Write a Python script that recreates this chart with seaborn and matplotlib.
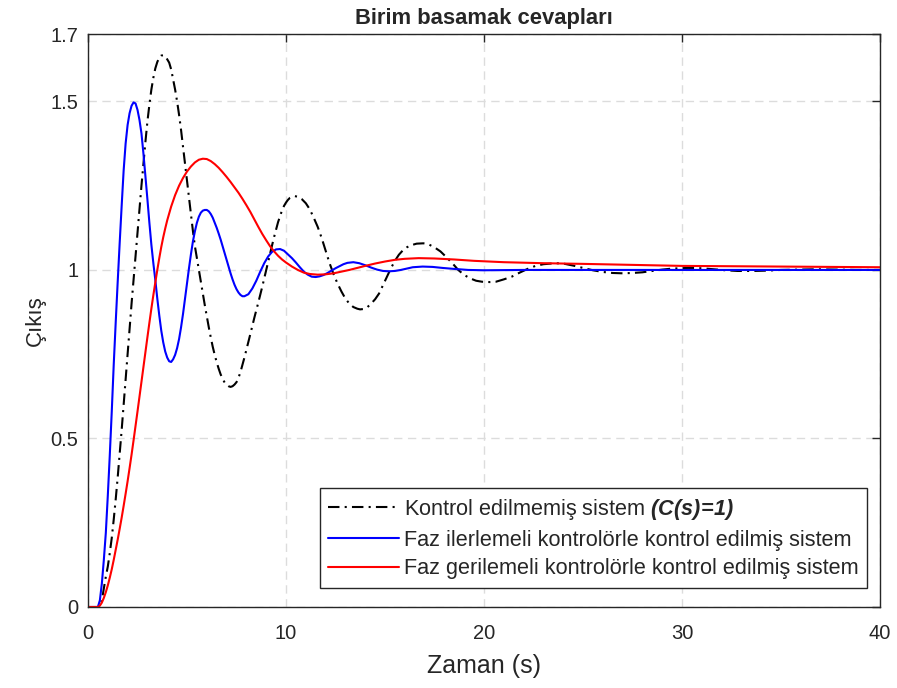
import numpy as np
import pandas as pd
import matplotlib
matplotlib.use("Agg")
import matplotlib.pyplot as plt
import seaborn as sns

# ---- data ----
t_unc = [0, 0.6, 0.7, 0.8, 0.9, 1.0, 1.1, 1.2, 1.3, 1.4, 1.5, 1.6, 1.7, 1.8, 1.9, 2.0,
         2.1, 2.2, 2.3, 2.4, 2.5, 2.6, 2.7, 2.8, 2.9, 3.0, 3.1, 3.2, 3.3, 3.4, 3.5, 3.6,
         3.7, 3.8, 3.9, 4.0, 4.1, 4.2, 4.3, 4.4, 4.5, 4.6, 4.7, 4.8, 4.9, 5.0, 5.1, 5.2,
         5.3, 5.4, 5.5, 5.6, 5.7, 5.8, 5.9, 6.0, 6.1, 6.2, 6.3, 6.4, 6.5, 6.6, 6.7, 6.8,
         6.9, 7.0, 7.1, 7.2, 7.3, 7.4, 7.5, 7.6, 7.7, 7.8, 7.9, 8.0, 8.1, 8.2, 8.3, 8.4,
         8.5, 8.6, 8.7, 8.8, 8.9, 9.0, 9.1, 9.2, 9.3, 9.4, 9.5, 9.6, 9.7, 9.8, 9.9, 10.0,
         10.1, 10.2, 10.3, 10.45, 10.6, 10.8, 11.0, 11.2, 11.4, 11.6, 11.8, 12.0, 12.2,
         12.4, 12.6, 12.8, 13.0, 13.2, 13.4, 13.6, 13.74, 13.9, 14.1, 14.3, 14.5, 14.7,
         14.9, 15.1, 15.3, 15.5, 15.7, 15.9, 16.1, 16.3, 16.6, 16.94, 17.2, 17.5, 17.8,
         18.1, 18.4, 18.7, 19.0, 19.3, 19.6, 19.9, 20.3, 20.6, 21.0, 21.4, 21.8, 22.2,
         22.6, 23.0, 23.6, 24.0, 24.5, 25.0, 25.5, 26.0, 26.5, 27.0, 27.5, 28.0, 28.5,
         29.0, 29.5, 30.3, 31.0, 31.6, 32.2, 32.8, 33.6, 34.3, 35.0, 35.8, 36.8, 37.8,
         38.8, 40]
y_unc = [0, 0, 0.02, 0.055, 0.09, 0.12, 0.16, 0.205, 0.26, 0.32, 0.385, 0.455, 0.525,
         0.6, 0.675, 0.75, 0.825, 0.9, 0.97, 1.04, 1.11, 1.18, 1.25, 1.315, 1.38, 1.44,
         1.49, 1.535, 1.57, 1.598, 1.617, 1.63, 1.636, 1.637, 1.634, 1.625, 1.615, 1.595,
         1.565, 1.535, 1.5, 1.46, 1.415, 1.365, 1.315, 1.265, 1.215, 1.165, 1.115, 1.07,
         1.035, 1.0, 0.965, 0.93, 0.895, 0.862, 0.83, 0.8, 0.772, 0.748, 0.726, 0.707,
         0.69, 0.677, 0.666, 0.659, 0.655, 0.653, 0.655, 0.66, 0.667, 0.68, 0.697, 0.718,
         0.74, 0.763, 0.786, 0.81, 0.834, 0.858, 0.88, 0.903, 0.926, 0.95, 0.975, 1.0,
         1.025, 1.05, 1.074, 1.098, 1.12, 1.142, 1.16, 1.177, 1.19, 1.2, 1.208, 1.214,
         1.217, 1.219, 1.217, 1.21, 1.198, 1.18, 1.155, 1.128, 1.095, 1.058, 1.02, 0.988,
         0.96, 0.936, 0.915, 0.9, 0.89, 0.885, 0.883, 0.884, 0.889, 0.9, 0.913, 0.93,
         0.955, 0.98, 1.005, 1.027, 1.045, 1.058, 1.067, 1.073, 1.078, 1.079, 1.076,
         1.067, 1.055, 1.038, 1.02, 1.0, 0.985, 0.975, 0.968, 0.965, 0.964, 0.965, 0.972,
         0.98, 0.992, 1.003, 1.012, 1.017, 1.02, 1.019, 1.013, 1.006, 0.999, 0.994, 0.991,
         0.99, 0.991, 0.993, 0.997, 1.001, 1.004, 1.006, 1.005, 1.002, 0.999, 0.997,
         0.997, 0.998, 1.0, 1.001, 1.002, 1.001, 1.0, 1.0]

t_lead = [0, 0.5, 0.6, 0.7, 0.8, 0.9, 1.0, 1.1, 1.2, 1.3, 1.4, 1.5, 1.6, 1.7, 1.8, 1.9,
          2.0, 2.1, 2.2, 2.3, 2.4, 2.5, 2.6, 2.7, 2.8, 2.9, 3.0, 3.1, 3.2, 3.3, 3.4, 3.5,
          3.6, 3.7, 3.8, 3.9, 4.0, 4.1, 4.2, 4.3, 4.4, 4.5, 4.6, 4.7, 4.8, 4.9, 5.0, 5.1,
          5.2, 5.3, 5.4, 5.5, 5.6, 5.7, 5.8, 5.9, 6.0, 6.1, 6.2, 6.3, 6.4, 6.5, 6.6, 6.7,
          6.8, 6.9, 7.0, 7.1, 7.2, 7.3, 7.4, 7.5, 7.6, 7.7, 7.8, 7.9, 8.0, 8.1, 8.3, 8.5,
          8.7, 8.9, 9.1, 9.3, 9.5, 9.7, 9.9, 10.1, 10.3, 10.5, 10.7, 10.9, 11.1, 11.3,
          11.5, 11.7, 11.9, 12.1, 12.3, 12.5, 12.7, 12.9, 13.1, 13.4, 13.7, 14.0, 14.3,
          14.6, 14.9, 15.2, 15.5, 15.8, 16.1, 16.4, 16.9, 17.4, 17.9, 18.5, 19.2, 20,
          22, 25, 30, 40]
y_lead = [0, 0, 0.02, 0.07, 0.14, 0.22, 0.33, 0.45, 0.58, 0.72, 0.845, 0.965, 1.08, 1.19,
          1.295, 1.375, 1.43, 1.465, 1.487, 1.497, 1.494, 1.475, 1.445, 1.405, 1.345,
          1.278, 1.21, 1.14, 1.075, 1.02, 0.97, 0.915, 0.865, 0.82, 0.785, 0.758, 0.74,
          0.729, 0.727, 0.735, 0.748, 0.768, 0.795, 0.83, 0.87, 0.915, 0.96, 1.005, 1.047,
          1.085, 1.115, 1.14, 1.158, 1.17, 1.176, 1.178, 1.178, 1.174, 1.166, 1.155, 1.14,
          1.125, 1.108, 1.09, 1.07, 1.05, 1.03, 1.01, 0.99, 0.972, 0.956, 0.943, 0.933,
          0.926, 0.922, 0.922, 0.925, 0.928, 0.945, 0.968, 0.995, 1.02, 1.04, 1.054, 1.061,
          1.062, 1.057, 1.046, 1.035, 1.022, 1.008, 0.995, 0.986, 0.98, 0.979, 0.981,
          0.985, 0.991, 0.998, 1.005, 1.011, 1.017, 1.021, 1.023, 1.02, 1.014, 1.007,
          1.001, 0.997, 0.996, 0.997, 1.0, 1.004, 1.008, 1.01, 1.009, 1.006, 1.003, 1.0,
          0.999, 1.0, 1.0, 1.0, 1.0]

t_lag = [0, 0.5, 0.6, 0.7, 0.8, 0.9, 1.0, 1.1, 1.2, 1.3, 1.4, 1.5, 1.6, 1.7, 1.8, 1.9,
         2.0, 2.1, 2.2, 2.3, 2.4, 2.5, 2.6, 2.7, 2.8, 2.9, 3.0, 3.1, 3.2, 3.3, 3.4, 3.5,
         3.6, 3.7, 3.8, 3.9, 4.0, 4.2, 4.4, 4.6, 4.8, 5.0, 5.2, 5.4, 5.6, 5.8, 6.0, 6.2,
         6.4, 6.6, 6.8, 7.0, 7.2, 7.4, 7.6, 7.8, 8.0, 8.2, 8.4, 8.6, 8.8, 9.0, 9.2, 9.4,
         9.6, 9.8, 10.0, 10.3, 10.6, 10.9, 11.2, 11.6, 12.0, 12.4, 12.8, 13.2, 13.6, 14.0,
         14.5, 15.0, 15.5, 16.0, 16.7, 17.5, 18.5, 19.5, 21.0, 23.0, 25.0, 27.5, 30, 35,
         40]
y_lag = [0, 0, 0.004, 0.013, 0.027, 0.044, 0.064, 0.087, 0.112, 0.14, 0.17, 0.2, 0.232,
         0.265, 0.3, 0.336, 0.373, 0.412, 0.452, 0.494, 0.537, 0.58, 0.624, 0.668, 0.712,
         0.756, 0.8, 0.843, 0.885, 0.925, 0.963, 1.0, 1.035, 1.068, 1.097, 1.123, 1.147,
         1.188, 1.222, 1.25, 1.273, 1.292, 1.307, 1.319, 1.327, 1.33, 1.329, 1.323, 1.314,
         1.303, 1.29, 1.276, 1.261, 1.245, 1.229, 1.211, 1.192, 1.172, 1.15, 1.128, 1.107,
         1.088, 1.07, 1.055, 1.042, 1.031, 1.022, 1.01, 1.0, 0.992, 0.988, 0.986, 0.987,
         0.99, 0.995, 1.0, 1.006, 1.012, 1.019, 1.025, 1.03, 1.033, 1.035, 1.034, 1.031,
         1.027, 1.023, 1.02, 1.018, 1.015, 1.012, 1.01, 1.008]

labels = [r"Kontrol edilmemiş sistem $\mathbfit{(C(s)\!=\!1)}$",
          "Faz ilerlemeli kontrolörle kontrol edilmiş sistem",
          "Faz gerilemeli kontrolörle kontrol edilmiş sistem"]
x_ticks = [0, 10, 20, 30, 40]
y_ticks = [0, 0.5, 1, 1.5, 1.7]
y_ticklabels = ["0", "0.5", "1", "1.5", "1.7"]

# ---- styling ----
sns.set_theme(style="white")
plt.rcParams["font.family"] = ["Liberation Sans", "DejaVu Sans"]
plt.rcParams["mathtext.fontset"] = "custom"
plt.rcParams["mathtext.rm"] = "Liberation Sans"
plt.rcParams["mathtext.it"] = "Liberation Sans:italic"
plt.rcParams["mathtext.bf"] = "Liberation Sans:bold"
plt.rcParams["mathtext.bfit"] = "Liberation Sans:italic:bold"

fig = plt.figure(figsize=(8.97, 6.88), dpi=100)
ax = fig.add_axes([88 / 897, 1 - 607 / 688, 792 / 897, 573 / 688])

lw = 1.5
sns.lineplot(x=t_unc, y=y_unc, ax=ax, color="black", lw=lw, sort=False,
             linestyle=(0, (5.5, 2.5, 1, 2.5)), label=labels[0])
sns.lineplot(x=t_lead, y=y_lead, ax=ax, color="#0000ff", lw=lw, sort=False, label=labels[1])
sns.lineplot(x=t_lag, y=y_lag, ax=ax, color="#ff0000", lw=lw, sort=False, label=labels[2])

ax.set_xlim(0, 40)
ax.set_ylim(0, 1.7)
ax.set_xticks(x_ticks)
ax.set_yticks(y_ticks)
ax.set_yticklabels(y_ticklabels)
ax.grid(True, color="#dcdcdc", linestyle=(0, (6, 4)), linewidth=1.0)
ax.set_axisbelow(True)
ax.tick_params(direction="in", length=6, width=1.0, top=True, right=True,
               labelsize=14.5, colors="#262626")
ax.tick_params(axis="x", pad=12)
ax.tick_params(axis="y", pad=7)
for s in ax.spines.values():
    s.set_color("#262626")
    s.set_linewidth(1.0)
    s.set_visible(True)

ax.set_title("Birim basamak cevapları", fontsize=15.8, fontweight="bold", pad=7)
ax.set_xlabel("Zaman (s)", fontsize=18, color="#262626", labelpad=8)
ax.set_ylabel("Çıkış", fontsize=16, color="#262626", labelpad=3)

leg = ax.legend(loc="lower right", bbox_to_anchor=(0.984, 0.033), fontsize=15.6,
                frameon=True, fancybox=False, edgecolor="#262626", framealpha=1,
                handlelength=3.25, handletextpad=0.25, borderpad=0.4, labelspacing=0.36,
                borderaxespad=0)
leg.get_frame().set_linewidth(1.0)

fig.savefig("out.png", dpi=100)
